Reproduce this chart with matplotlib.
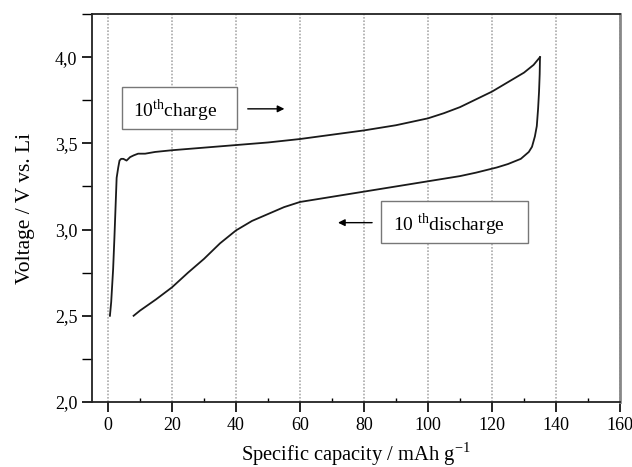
import matplotlib.pyplot as plt
from matplotlib.patches import Rectangle
from matplotlib.ticker import MultipleLocator, FuncFormatter

plt.rcParams['font.family'] = ['Liberation Serif', 'DejaVu Serif']
plt.rcParams['mathtext.fontset'] = 'custom'
plt.rcParams['mathtext.rm'] = 'Liberation Serif'

# Data
charge_cap = [0.6, 1.0, 1.6, 2.0, 2.3, 2.7, 3.2, 3.6, 4.1, 4.8, 5.8, 6.9, 8.0, 9.4, 11.6, 14.7,
              20, 30, 40, 50, 60, 70, 80, 90, 100, 105, 110, 115, 120, 125, 130, 133, 135]
charge_v = [2.50, 2.58, 2.77, 2.95, 3.10, 3.30, 3.36, 3.40, 3.41, 3.41, 3.40, 3.42, 3.43, 3.44, 3.44, 3.45,
            3.46, 3.475, 3.49, 3.505, 3.525, 3.55, 3.575, 3.605, 3.645, 3.675, 3.71, 3.755, 3.80, 3.855, 3.91, 3.955, 4.0]

discharge_cap = [135, 134.9, 134.7, 134.4, 134.0, 133.4, 132.5, 131.5, 129, 125, 121.5, 115, 110, 100, 90,
                 80, 70, 60, 55, 50, 45, 40, 35, 30, 25, 20, 15, 10, 8]
discharge_v = [4.0, 3.9, 3.8, 3.7, 3.6, 3.54, 3.48, 3.45, 3.41, 3.38, 3.36, 3.33, 3.31, 3.28, 3.25,
               3.22, 3.19, 3.16, 3.13, 3.09, 3.05, 2.995, 2.92, 2.83, 2.75, 2.665, 2.595, 2.53, 2.50]

x_ticks = [0, 20, 40, 60, 80, 100, 120, 140, 160]
y_ticks = [2.0, 2.5, 3.0, 3.5, 4.0]

fig = plt.figure(figsize=(6.32, 4.67), dpi=100)
ax = fig.add_axes([92 / 632, 65 / 467, 528 / 632, 388 / 467])

ax.plot(charge_cap, charge_v, color='#1a1a1a', lw=1.3)
ax.plot(discharge_cap, discharge_v, color='#1a1a1a', lw=1.3)

ax.set_xlim(-5, 160)
ax.set_ylim(2.0, 4.25)
ax.set_xticks(x_ticks)
ax.set_yticks(y_ticks)
ax.xaxis.set_minor_locator(MultipleLocator(10))
ax.yaxis.set_minor_locator(MultipleLocator(0.25))
ax.yaxis.set_major_formatter(FuncFormatter(lambda v, p: f"{v:.1f}".replace('.', ',')))

ax.tick_params(axis='both', which='major', labelsize=13, direction='out', length=7, width=1.2)
ax.tick_params(axis='x', which='minor', direction='in', length=3, width=1)
ax.tick_params(axis='y', which='minor', direction='out', length=7, width=1)

ax.grid(axis='x', which='major', color='#aaaaaa', linestyle=(0, (1, 1)), lw=1.2)

for side in ['left', 'bottom', 'top']:
    ax.spines[side].set_linewidth(1.3)
    ax.spines[side].set_color('#222222')
ax.spines['right'].set_linewidth(2)
ax.spines['right'].set_color('#888888')

ax.set_xlabel('Specific capacity / mAh g$^{\\mathregular{-1}}$', fontsize=14.8, labelpad=5)
ax.set_ylabel('Voltage / V vs. Li', fontsize=15.5, labelpad=14)

# annotation boxes
ax.add_patch(Rectangle((4.4, 3.583), 35.9, 0.243, facecolor='white', edgecolor='#777777', lw=1, zorder=3))
ax.text(7.8, 3.69, '10$^{\\mathregular{th}}$charge', fontsize=14, va='center', zorder=4)
ax.annotate('', xy=(56, 3.70), xytext=(42.8, 3.70),
            arrowprops=dict(arrowstyle='-|>', color='black', lw=1, mutation_scale=10))

ax.add_patch(Rectangle((85.3, 2.922), 46.0, 0.243, facecolor='white', edgecolor='#777777', lw=1, zorder=3))
ax.text(89, 3.03, '10 $^{\\mathregular{th}}$discharge', fontsize=14, va='center', zorder=4)
ax.annotate('', xy=(71, 3.04), xytext=(83.4, 3.04),
            arrowprops=dict(arrowstyle='-|>', color='black', lw=1, mutation_scale=10))

fig.savefig('out.png', dpi=100)
